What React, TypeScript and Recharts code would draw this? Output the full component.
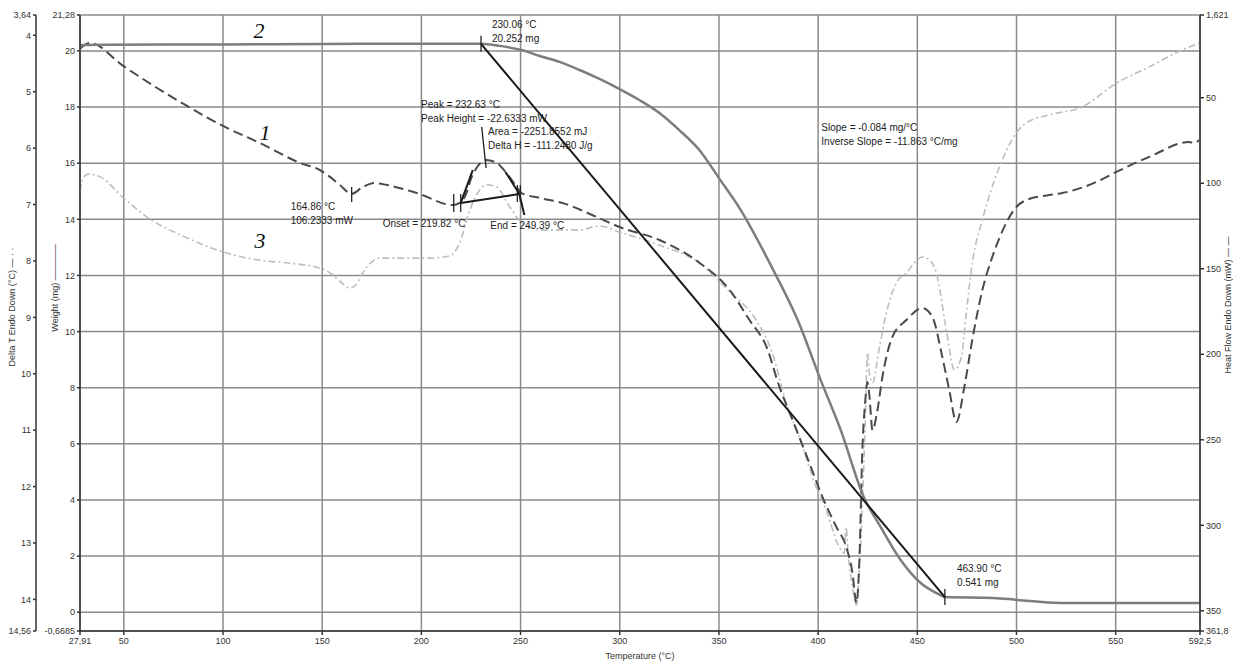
import React from "react";
import {
  LineChart,
  Line,
  XAxis,
  YAxis,
  CartesianGrid,
  ReferenceLine,
  ReferenceDot,
} from "recharts";

// axis ticks
const tempTicks = [27.91, 50, 100, 150, 200, 250, 300, 350, 400, 450, 500, 550, 592.5];
const weightTicks = [-0.6685, 0, 2, 4, 6, 8, 10, 12, 14, 16, 18, 20, 21.28];
const deltaTTicks = [3.64, 4, 5, 6, 7, 8, 9, 10, 11, 12, 13, 14, 14.56];
const heatTicks = [1.621, 50, 100, 150, 200, 250, 300, 350, 361.8];

// curve 2 - weight (mg)
const weightT = [27.91, 29, 40, 100, 150, 200, 230.06, 239.4, 250.4, 259.7, 269.7, 279.8, 289.8, 299.9, 309.9, 320, 330, 340.1, 350.2, 361, 376.1, 389.7, 401.3, 411.4, 423, 431.5, 441.6, 451.7, 461.7, 463.9, 488.4, 500.4, 522, 542.1, 592.5];
const weightMg = [20.1, 20.21, 20.22, 20.23, 20.25, 20.26, 20.252, 20.18, 20.03, 19.82, 19.61, 19.32, 19.0, 18.64, 18.25, 17.79, 17.18, 16.47, 15.45, 14.33, 12.37, 10.41, 8.27, 6.49, 4.11, 3.04, 1.86, 1.04, 0.61, 0.541, 0.51, 0.44, 0.33, 0.33, 0.33];

// curve 1 - heat flow endo down (mW)
const heatT = [28.2, 33, 49.7, 66.8, 81.9, 100, 118.6, 138.8, 148.9, 153.9, 158.9, 164.86, 170.5, 176.5, 182.6, 197.7, 215.8, 219.3, 222.3, 225.4, 228.9, 232.63, 237.9, 242.9, 247, 250.5, 259.6, 271.1, 288.3, 299.9, 320, 340.3, 355.4, 365.4, 374, 380.5, 387.1, 395.6, 402.2, 409.2, 414.2, 417.3, 419.3, 420.8, 422.3, 423.8, 424.8, 425.8, 427.4, 429.9, 432.4, 437.4, 444.5, 452.5, 457.6, 462.6, 466.1, 469.7, 473.7, 477.7, 482.8, 487.8, 491.4, 499.9, 505, 516.5, 523.1, 540.2, 550.3, 566.9, 587, 589.6, 592.1];
const heatMw = [21, 18, 31.4, 44.3, 54.8, 66.5, 76.5, 88.1, 92.3, 96.3, 101, 106.2, 102.2, 99.9, 101, 105.7, 112.7, 111.5, 106.9, 96.3, 89.3, 86.4, 88.1, 94, 100.4, 105.7, 108.6, 111.5, 119.7, 125.6, 133.2, 146.6, 162.4, 180, 195.7, 219.1, 238.4, 263.6, 283.5, 301, 312.7, 327.9, 345.4, 320.3, 256, 226.7, 216.2, 223.8, 244.3, 232.6, 213.3, 189.9, 180, 173, 178.2, 201.6, 220.9, 239.6, 219.1, 191.6, 162.4, 143.1, 132, 113.9, 109.8, 106.9, 105.7, 99.3, 93.4, 84.6, 75.9, 76.5, 74.7];

// curve 3 - delta T endo down (°C)
const deltaT = [27.95, 29.5, 32, 38.1, 49.7, 63.3, 79.9, 100, 117.1, 133.7, 147.3, 153.9, 158.9, 163.9, 167.4, 170.5, 179.1, 189.1, 204.2, 214.3, 219.3, 224.4, 229.4, 232.9, 237.9, 244.5, 251, 261.1, 279.7, 289.8, 299.9, 320, 340.3, 355.4, 368.8, 376.9, 383.9, 390.5, 399, 404, 410.6, 413.1, 414.1, 415.1, 417.3, 419.3, 420.8, 422.3, 423.8, 424.8, 425.8, 427.4, 430.9, 434.4, 439.4, 444.5, 452.5, 456, 459.6, 464.6, 468.7, 472.2, 474.7, 477.7, 482.8, 491.4, 499.9, 505, 516.5, 533.1, 550.3, 566.9, 583.5, 592.1];
const deltaC = [6.77, 6.53, 6.46, 6.51, 6.88, 7.26, 7.56, 7.84, 7.98, 8.04, 8.11, 8.21, 8.36, 8.48, 8.41, 8.21, 7.95, 7.95, 7.95, 7.91, 7.68, 7.1, 6.74, 6.65, 6.69, 7.04, 7.33, 7.45, 7.45, 7.38, 7.49, 7.72, 8.04, 8.55, 9.05, 9.63, 10.52, 11.12, 12.01, 12.41, 13.07, 13.18, 12.72, 13.18, 13.78, 14.1, 13.48, 12.29, 10.82, 9.63, 9.97, 10.16, 9.53, 8.92, 8.39, 8.21, 7.93, 7.98, 8.21, 9.22, 9.93, 9.7, 8.92, 8.04, 7.27, 6.33, 5.73, 5.55, 5.41, 5.27, 4.85, 4.56, 4.26, 4.14];

const weightData = weightT.map((t, i) => ({ t, v: weightMg[i] }));
const heatData = heatT.map((t, i) => ({ t, v: heatMw[i] }));
const deltaData = deltaT.map((t, i) => ({ t, v: deltaC[i] }));

// axis ids: the weight axis sorts first so it sits next to the plot
const W = "a_weight";
const DT = "b_delta";
const HF = "c_heat";

const FONT = "'Liberation Sans', Arial, sans-serif";
const tickStyle = { fontSize: 9, fill: "#333", fontFamily: FONT };
const axisLine = { stroke: "#333", strokeWidth: 1.5 };
const noteStyle = { fontSize: 10, fill: "#222", fontFamily: FONT };
const titleStyle = { fontSize: 9, fill: "#333", fontFamily: FONT };

const fmt = (v: number) => String(v).replace(".", ",");

const vTitle = (text: string, dx: number, dy: number) => (props: any) => {
  const vb = props.viewBox || { x: 0, y: 0, width: 0, height: 0 };
  const cx = vb.x + dx;
  const cy = vb.y + vb.height / 2 + dy;
  return (
    <text
      x={cx}
      y={cy}
      transform={`rotate(-90 ${cx} ${cy})`}
      textAnchor="middle"
      dominantBaseline="central"
      style={titleStyle}
    >
      {text}
    </text>
  );
};

const xTitle = (props: any) => {
  const vb = props.viewBox || { x: 0, y: 0, width: 0, height: 0 };
  return (
    <text x={vb.x + vb.width / 2} y={vb.y + 28} textAnchor="middle" style={titleStyle}>
      Temperature (°C)
    </text>
  );
};

type Callout = {
  x: number;
  y: number;
  axis: string;
  lines: string[];
  dx: number;
  dy: number;
  ticks?: number[][];
};

const callouts: Callout[] = [
  { x: 230.06, y: 20.252, axis: W, lines: ["230.06 °C", "20.252 mg"], dx: 11, dy: -16, ticks: [[0, -8, 8]] },
  { x: 463.9, y: 0.541, axis: W, lines: ["463.90 °C", "0.541 mg"], dx: 12, dy: -25, ticks: [[0, -8, 8]] },
  { x: 401.6, y: 17.15, axis: W, lines: ["Slope  = -0.084 mg/°C", "Inverse Slope  = -11.863 °C/mg"], dx: 0, dy: 0 },
  { x: 164.86, y: 106.2333, axis: HF, lines: ["164.86 °C", "106.2333 mW"], dx: -61, dy: 16, ticks: [[0, -7, 8]] },
  { x: 232.63, y: 86.4, axis: HF, lines: ["Peak = 232.63 °C", "Peak Height = -22.6333 mW"], dx: -65, dy: -52 },
  { x: 232.63, y: 86.4, axis: HF, lines: ["Area = -2251.8552 mJ", "Delta H = -111.2480 J/g"], dx: 2, dy: -25 },
  { x: 219.82, y: 111.5, axis: HF, lines: ["Onset = 219.82 °C"], dx: -78, dy: 24, ticks: [[-7, -9, 9], [0, -9, 9]] },
  { x: 249.39, y: 106.3, axis: HF, lines: ["End = 249.39 °C"], dx: -29, dy: 35, ticks: [[-2, -9, 8], [1, -9, 8]] },
];

// baseline / tangent construction on the heat flow peak
const hfSegments = [
  [{ x: 219.82, y: 111.5 }, { x: 249.39, y: 106.3 }],
  [{ x: 219.82, y: 111.5 }, { x: 225.9, y: 92.3 }],
  [{ x: 249.39, y: 106.3 }, { x: 242.4, y: 93.4 }],
  [{ x: 249.39, y: 106.3 }, { x: 251.9, y: 118.6 }],
  [{ x: 230.4, y: 67.1 }, { x: 232.63, y: 91.1 }],
];

const curveNames = [
  { x: 118.1, y: 20.46, text: "2" },
  { x: 121.2, y: 16.83, text: "1" },
  { x: 118.6, y: 12.98, text: "3" },
];

const calloutShape = (c: Callout) => (p: any) => (
  <g>
    {(c.ticks || []).map((tk, i) => (
      <line key={i} x1={p.cx + tk[0]} x2={p.cx + tk[0]} y1={p.cy + tk[1]} y2={p.cy + tk[2]} stroke="#222" strokeWidth={1.3} />
    ))}
    <text x={p.cx + c.dx} y={p.cy + c.dy} style={noteStyle}>
      {c.lines.map((l, i) => (
        <tspan key={i} x={p.cx + c.dx} dy={i === 0 ? 0 : 14}>
          {l}
        </tspan>
      ))}
    </text>
  </g>
);

export default function App() {
  return (
    <div style={{ position: "absolute", left: 0, top: 0, width: 1241, height: 664, background: "#fff" }}>
      <LineChart width={1241} height={664} margin={{ top: 15, right: 0, bottom: 0, left: 0 }}>
        <CartesianGrid yAxisId={W} stroke="#8a8a8a" strokeWidth={1.5} />
        <XAxis
          type="number"
          dataKey="t"
          domain={[27.91, 592.5]}
          ticks={tempTicks}
          interval={0}
          allowDataOverflow
          height={33}
          tickSize={4}
          tickMargin={3}
          tickFormatter={fmt}
          tick={tickStyle}
          axisLine={axisLine}
          tickLine={axisLine}
          label={{ content: xTitle }}
        />
        <YAxis
          yAxisId={W}
          type="number"
          domain={[-0.6685, 21.28]}
          ticks={weightTicks}
          interval={0}
          allowDataOverflow
          width={44}
          tickSize={3}
          tickMargin={2}
          tickFormatter={fmt}
          tick={tickStyle}
          axisLine={axisLine}
          tickLine={axisLine}
          label={{ content: vTitle("Weight (mg) ————", 19, -35) }}
        />
        <YAxis
          yAxisId={DT}
          type="number"
          reversed
          domain={[3.64, 14.56]}
          ticks={deltaTTicks}
          interval={0}
          allowDataOverflow
          width={36}
          tickSize={3}
          tickMargin={2}
          tickFormatter={fmt}
          tick={tickStyle}
          axisLine={axisLine}
          tickLine={axisLine}
          label={{ content: vTitle("Delta T Endo Down (°C) — · ·", 12, -16) }}
        />
        <YAxis
          yAxisId={HF}
          orientation="right"
          type="number"
          reversed
          domain={[1.621, 361.8]}
          ticks={heatTicks}
          interval={0}
          allowDataOverflow
          width={41}
          tickSize={4}
          tickMargin={2}
          tickFormatter={fmt}
          tick={tickStyle}
          axisLine={axisLine}
          tickLine={axisLine}
          label={{ content: vTitle("Heat Flow Endo Down (mW) — —", 28, -18) }}
        />

        <Line yAxisId={DT} data={deltaData} dataKey="v" type="monotone" dot={false} isAnimationActive={false} stroke="#bdbdbd" strokeWidth={1.6} strokeDasharray="7 3 2 3" />
        <Line yAxisId={HF} data={heatData} dataKey="v" type="monotone" dot={false} isAnimationActive={false} stroke="#4a4a4a" strokeWidth={2} strokeDasharray="10 5" />
        <Line yAxisId={W} data={weightData} dataKey="v" type="monotone" dot={false} isAnimationActive={false} stroke="#7d7d7d" strokeWidth={2.5} />

        <ReferenceLine
          yAxisId={W}
          segment={[{ x: 230.06, y: 20.252 }, { x: 463.9, y: 0.541 }]}
          stroke="#1a1a1a"
          strokeWidth={2}
        />
        {hfSegments.map((s, i) => (
          <ReferenceLine key={"s" + i} yAxisId={HF} segment={s} stroke="#1a1a1a" strokeWidth={i === 4 ? 1.3 : 2} />
        ))}
        {callouts.map((c, i) => (
          <ReferenceDot key={"c" + i} yAxisId={c.axis} x={c.x} y={c.y} r={0} shape={calloutShape(c)} />
        ))}
        {curveNames.map((n, i) => (
          <ReferenceDot
            key={"n" + i}
            yAxisId={W}
            x={n.x}
            y={n.y}
            r={0}
            shape={(p: any) => (
              <text x={p.cx} y={p.cy} textAnchor="middle" style={{ fontSize: 22, fontStyle: "italic", fontFamily: "'Liberation Serif', serif", fill: "#111" }}>
                {n.text}
              </text>
            )}
          />
        ))}
      </LineChart>
    </div>
  );
}
